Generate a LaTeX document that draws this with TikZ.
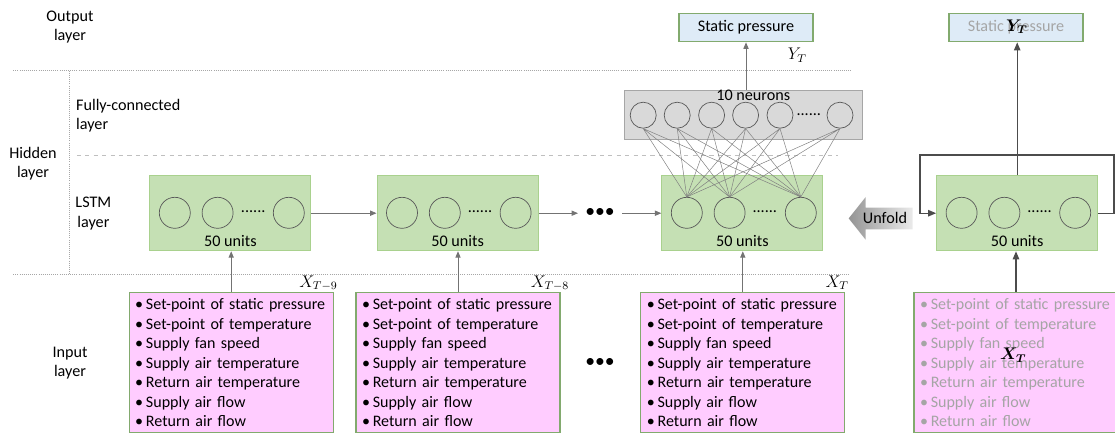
\documentclass[tikz,border=0pt]{standalone}
\usepackage{amsmath}
\usepackage{fontspec}
\setmainfont{Carlito}
\usepackage{tikz}
\usetikzlibrary{arrows.meta,positioning,shapes.arrows}
\definecolor{lstmgreen}{RGB}{197,224,180}
\definecolor{lstmedge}{RGB}{169,209,142}
\definecolor{fcgray}{RGB}{217,217,217}
\definecolor{fcedge}{RGB}{166,166,166}
\definecolor{outblue}{RGB}{222,235,247}
\definecolor{boxedge}{RGB}{130,170,110}
\definecolor{inpink}{RGB}{255,204,255}
\definecolor{fadetext}{RGB}{165,165,165}
\newcommand{\inputvars}{%
  \textbullet\hspace{2pt}Set-point of static pressure\\
  \textbullet\hspace{2pt}Set-point of temperature\\
  \textbullet\hspace{2pt}Supply fan speed\\
  \textbullet\hspace{2pt}Supply air temperature\\
  \textbullet\hspace{2pt}Return air temperature\\
  \textbullet\hspace{2pt}Supply air flow\\
  \textbullet\hspace{2pt}Return air flow}
\tikzset{
  lstmbox/.style={
    rectangle,
    draw=lstmedge,
    fill=lstmgreen,
    line width=0.8pt,
    minimum width=4.025cm,
    minimum height=1.875cm
  },
  fcbox/.style={
    rectangle,
    draw=fcedge,
    fill=fcgray,
    line width=0.8pt,
    minimum width=5.95cm,
    minimum height=1.23cm
  },
  outbox/.style={
    rectangle,
    draw=boxedge,
    fill=outblue,
    line width=0.8pt,
    minimum width=3.35cm,
    minimum height=0.71cm,
    inner sep=0pt
  },
  inbox/.style={
    rectangle,
    draw=boxedge,
    fill=inpink,
    line width=0.8pt,
    align=left,
    text width=4.8cm,
    minimum height=3.5cm,
    inner xsep=0.15cm,
    inner ysep=0pt,
    font=\fontsize{11.4}{13.9}\selectfont
  },
  lstmunit/.style={
    circle,
    draw=black!65,
    line width=0.5pt,
    minimum size=0.775cm,
    inner sep=0pt
  },
  fcneuron/.style={
    circle,
    draw=black!65,
    line width=0.5pt,
    minimum size=0.65cm,
    inner sep=0pt
  },
  bigdots/.style={
    font=\fontsize{14}{14}\selectfont,
    inner xsep=5pt
  },
  unfoldarrow/.style={
    single arrow,
    shape border rotate=180,
    shading=axis,
    left color=black!42,
    right color=black!8,
    minimum height=1.6cm,
    single arrow head extend=0.26cm,
    single arrow tip angle=103,
    inner xsep=0pt,
    inner ysep=3.5pt
  },
  layerline/.style={
    densely dotted,
    draw=black!35,
    line width=0.5pt
  },
  flowarrow/.style={
    -{Triangle[length=1.6mm,width=1.3mm]},
    line width=0.6pt,
    draw=black!55
  },
  looparrow/.style={
    -{Triangle[length=2mm,width=1.6mm]},
    line width=0.9pt,
    draw=black!70
  },
  fcline/.style={
    line width=0.35pt,
    draw=black!50
  }
}

\begin{document}
\begin{tikzpicture}[font=\fontsize{11.5}{13.9}\selectfont]
\useasboundingbox (0,0) rectangle (27.875,-10.875);

% layer separators
\draw[layerline] (0.33,-1.77) -- (21.3,-1.77);
\draw[layerline] (0.33,-6.87) -- (21.25,-6.87);
\draw[layerline] (1.73,-1.77) -- (1.73,-6.87);
\draw[layerline, dashed, draw=black!25] (1.92,-3.875) -- (20.95,-3.875);

% layer names
\node[align=center] (outname) at (1.75,-0.675) {Output\\layer};
\node[align=left, anchor=west] (fcname) at (1.78,-2.89) {Fully-connected\\layer};
\node[align=center] (hidname) at (0.825,-4.09) {Hidden\\layer};
\node[align=center] (lstmname) at (2.335,-5.34) {LSTM\\layer};
\node[align=center] (inname) at (1.75,-9.075) {Input\\layer};

% LSTM layer, unrolled
\node[lstmbox] (lstm1) at (5.76,-5.33) {};
\node[lstmbox] (lstm2) at (11.44,-5.33) {};
\node[lstmbox] (lstm3) at (18.56,-5.33) {};
\node[lstmbox] (lstm4) at (25.43,-5.33) {};

\node[lstmunit] (c11) at (4.37,-5.32) {};
\node[lstmunit] (c12) at (5.44,-5.32) {};
\node[lstmunit] (c13) at (7.22,-5.32) {};
\node (more1) at (6.33,-5.3) {......};
\node (units1) at (5.76,-6.02) {50 units};

\node[lstmunit] (c21) at (10.05,-5.32) {};
\node[lstmunit] (c22) at (11.12,-5.32) {};
\node[lstmunit] (c23) at (12.89,-5.32) {};
\node (more2) at (12.0,-5.3) {......};
\node (units2) at (11.44,-6.02) {50 units};

\node[lstmunit] (c31) at (17.17,-5.32) {};
\node[lstmunit] (c32) at (18.24,-5.32) {};
\node[lstmunit] (c33) at (20.02,-5.32) {};
\node (more3) at (19.12,-5.3) {......};
\node (units3) at (18.56,-6.02) {50 units};

\node[lstmunit] (c41) at (24.04,-5.32) {};
\node[lstmunit] (c42) at (25.11,-5.32) {};
\node[lstmunit] (c43) at (26.88,-5.32) {};
\node (more4) at (25.99,-5.3) {......};
\node (units4) at (25.43,-6.02) {50 units};

\node[bigdots] (skiplstm) at (15.0,-5.33) {\textbullet\textbullet\textbullet};

% fully-connected layer
\node[fcbox] (fc) at (18.58,-2.87) {};
\node (fctitle) at (18.83,-2.39) {10 neurons};
\node[fcneuron] (n1) at (16.08,-2.88) {};
\node[fcneuron] (n2) at (16.93,-2.88) {};
\node[fcneuron] (n3) at (17.79,-2.88) {};
\node[fcneuron] (n4) at (18.64,-2.88) {};
\node[fcneuron] (n5) at (19.5,-2.88) {};
\node[fcneuron] (n6) at (21.0,-2.88) {};
\node (fcmore) at (20.22,-2.86) {......};

% output layer
\node[outbox] (out) at (18.65,-0.69) {Static pressure};
\node (ylabel) at (19.93,-1.375) {\large$Y_T$};
\node[outbox, text=fadetext] (out4) at (25.4,-0.69) {Static pressure};
\node (ylabel4) at (25.42,-0.67) {\large$\boldsymbol{Y_T}$};

% input layer
\node[inbox] (in1) at (5.78,-9.07) {\inputvars};
\node[inbox] (in2) at (11.45,-9.07) {\inputvars};
\node[inbox] (in3) at (18.57,-9.07) {\inputvars};
\node[inbox, text=fadetext] (in4) at (25.4,-9.07) {\inputvars};
\node[bigdots] (skipin) at (15.0,-9.075) {\textbullet\textbullet\textbullet};

\node (xlabel1) at (7.96,-7.08) {\large$X_{T-9}$};
\node (xlabel2) at (13.75,-7.08) {\large$X_{T-8}$};
\node (xlabel3) at (20.93,-7.07) {\large$X_T$};
\node (xlabel4) at (25.33,-8.875) {\large$\boldsymbol{X_T}$};

% unfold marker
\node[unfoldarrow] (unfold) at (22.125,-5.46) {Unfold};

\coordinate (loopa) at (27.85,-5.33);
\coordinate (loopb) at (27.85,-3.875);
\coordinate (loopc) at (23.0,-3.875);
\coordinate (loopd) at (23.0,-5.33);

% connectors
\draw[flowarrow] (in1.north) -- (in1.north |- lstm1.south);
\draw[flowarrow] (in2.north) -- (in2.north |- lstm2.south);
\draw[flowarrow] (in3.north) -- (in3.north |- lstm3.south);
\draw[looparrow] (in4.north) -- (in4.north |- lstm4.south);

\draw[flowarrow] (lstm1.east) -- (lstm2.west);
\draw[flowarrow] (lstm2.east) -- (skiplstm.west);
\draw[flowarrow] (skiplstm.east) -- (lstm3.west);

\draw[fcline] (n1.south) -- (c31.north) (n1.south) -- (c32.north) (n1.south) -- (c33.north);
\draw[fcline] (n2.south) -- (c31.north) (n2.south) -- (c32.north) (n2.south) -- (c33.north);
\draw[fcline] (n3.south) -- (c31.north) (n3.south) -- (c32.north) (n3.south) -- (c33.north);
\draw[fcline] (n4.south) -- (c31.north) (n4.south) -- (c32.north) (n4.south) -- (c33.north);
\draw[fcline] (n5.south) -- (c31.north) (n5.south) -- (c32.north) (n5.south) -- (c33.north);
\draw[fcline] (n6.south) -- (c31.north) (n6.south) -- (c32.north) (n6.south) -- (c33.north);

\draw[flowarrow] (fc.north -| out.south) -- (out.south);
\draw[looparrow] (lstm4.north) -- (lstm4.north |- out4.south);
\draw[looparrow] (lstm4.east) -- (loopa) -- (loopb) -- (loopc) -- (loopd) -- (lstm4.west);
\end{tikzpicture}
\end{document}
